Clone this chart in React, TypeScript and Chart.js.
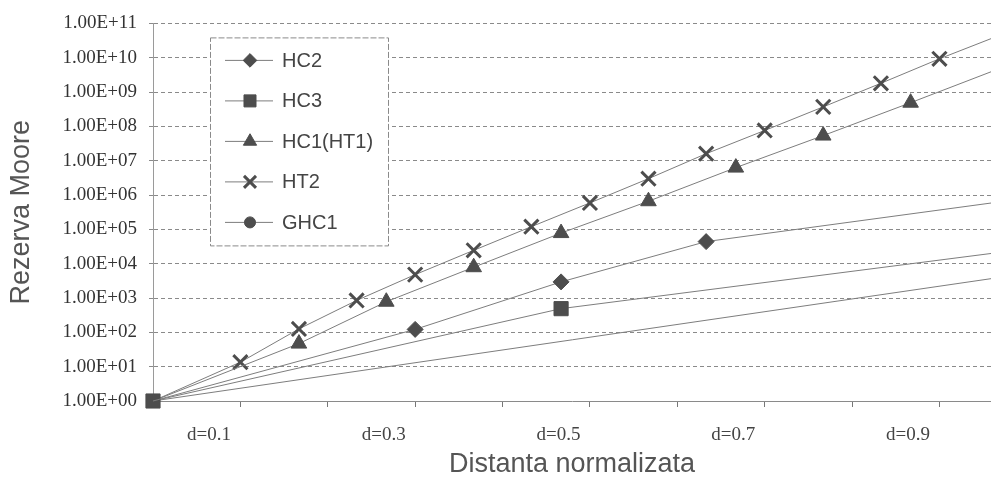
import React, { useEffect, useRef } from 'react';
import { Chart, registerables } from 'chart.js';
import { drawPoint } from 'chart.js/helpers';

Chart.register(...registerables);

// ---- data (x = normalized distance in axis units, y = Moore reserve) ----
const seriesNames = ['HC2', 'HC3', 'HC1(HT1)', 'HT2', 'GHC1'];

const hc2X = [0, 0.3, 0.467, 0.633, 1.0];
const hc2Y = [1, 122, 2950, 44000, 810000];

const hc3X = [0, 0.467, 1.0];
const hc3Y = [1, 490, 27000];

const hc1X = [0, 0.167, 0.267, 0.367, 0.467, 0.567, 0.667, 0.767, 0.867, 1.0];
const hc1Y = [1, 47, 780, 7900, 78000, 660000, 6300000, 54000000, 490000000, 9800000000];

const ht2X = [0, 0.1, 0.167, 0.233, 0.3, 0.367, 0.433, 0.5, 0.567, 0.633, 0.7, 0.767, 0.833, 0.9, 1.0];
const ht2Y = [1, 13.5, 126, 850, 4800, 24500, 120000, 590000, 3000000, 16000000, 76000000, 370000000, 1800000000, 9300000000, 92000000000];

const ghc1X = [0, 1.0];
const ghc1Y = [1, 5200];

const yTickValues = [1, 1e1, 1e2, 1e3, 1e4, 1e5, 1e6, 1e7, 1e8, 1e9, 1e10, 1e11];
const xTickMarks = [0, 0.1, 0.2, 0.3, 0.4, 0.5, 0.6, 0.7, 0.8, 0.9];
const xLabelPositions = [0.064, 0.264, 0.464, 0.664, 0.864];
const xLabels = ['d=0.1', 'd=0.3', 'd=0.5', 'd=0.7', 'd=0.9'];
const X_MIN = 0;
const X_MAX = 0.959;

const seriesX = [hc2X, hc3X, hc1X, ht2X, ghc1X];
const seriesY = [hc2Y, hc3Y, hc1Y, ht2Y, ghc1Y];

// ---- styles ----
const markerStyles = [
  { pointStyle: 'rectRot', radius: 8, borderWidth: 1 },
  { pointStyle: 'rect', radius: 10, borderWidth: 1 },
  { pointStyle: 'triangle', radius: 9, borderWidth: 1 },
  { pointStyle: 'crossRot', radius: 10, borderWidth: 3 },
  { pointStyle: 'circle', radius: 6.5, borderWidth: 1 },
];
const MARK = '#4d4d4d';
const LINE = '#7d7d7d';
const SERIF = "'Liberation Serif', 'Times New Roman', serif";
const SANS = "'Liberation Sans', Arial, sans-serif";

const fmtE = (v: number) => {
  const e = Math.round(Math.log10(v));
  return '1.00E+' + String(e).padStart(2, '0');
};

const boxLegend = {
  id: 'boxLegend',
  afterDatasetsDraw(chart: any) {
    const ctx = chart.ctx;
    const { left, top } = chart.chartArea;
    const bx = left + 57;
    const by = top + 14;
    const bw = 178;
    const bh = 208;
    ctx.save();
    ctx.fillStyle = '#ffffff';
    ctx.fillRect(bx, by, bw, bh);
    ctx.strokeStyle = '#8a8a8a';
    ctx.lineWidth = 1;
    ctx.setLineDash([6, 2]);
    ctx.strokeRect(bx + 0.5, by + 0.5, bw, bh);
    ctx.setLineDash([]);
    chart.data.datasets.forEach((ds: any, i: number) => {
      const y = by + 23 + i * 40.5;
      ctx.strokeStyle = LINE;
      ctx.lineWidth = 1;
      ctx.beginPath();
      ctx.moveTo(bx + 15, y);
      ctx.lineTo(bx + 63, y);
      ctx.stroke();
      const m = markerStyles[i];
      ctx.fillStyle = MARK;
      ctx.strokeStyle = MARK;
      ctx.lineWidth = m.borderWidth;
      drawPoint(ctx, { pointStyle: m.pointStyle, radius: m.radius * 0.85, rotation: 0, borderWidth: m.borderWidth }, bx + 40, y);
      ctx.fillStyle = '#454545';
      ctx.font = `20px ${SANS}`;
      ctx.textBaseline = 'middle';
      ctx.textAlign = 'left';
      ctx.fillText(ds.label, bx + 72, y + 1);
    });
    ctx.restore();
  },
};

export default function App() {
  const ref = useRef<HTMLCanvasElement | null>(null);

  useEffect(() => {
    if (!ref.current) return;
    const datasets = seriesNames.map((name, i) => ({
      label: name,
      data: seriesX[i].map((x, j) => ({ x, y: seriesY[i][j] })),
      borderColor: LINE,
      borderWidth: 1,
      backgroundColor: MARK,
      pointBackgroundColor: MARK,
      pointBorderColor: MARK,
      pointBorderWidth: markerStyles[i].borderWidth,
      pointStyle: markerStyles[i].pointStyle,
      pointRadius: (c: any) => (c.dataIndex === 0 && name !== 'HC3' ? 0 : markerStyles[i].radius),
      pointHoverRadius: markerStyles[i].radius,
      tension: 0,
      fill: false,
      clip: { left: 20, top: 20, right: 0, bottom: 20 } as any,
    }));

    const noPad = (s: any) => {
      s.paddingLeft = 0;
      s.paddingRight = 0;
    };

    const chart = new Chart(ref.current, {
      type: 'line',
      data: { datasets },
      plugins: [boxLegend],
      options: {
        animation: false,
        responsive: false,
        maintainAspectRatio: false,
        devicePixelRatio: 1,
        layout: { autoPadding: false, padding: { top: 21, right: 0, bottom: 0, left: 0 } },
        plugins: { legend: { display: false }, tooltip: { enabled: false } },
        scales: {
          x: {
            type: 'linear',
            position: 'bottom',
            weight: 1,
            min: X_MIN,
            max: X_MAX,
            afterBuildTicks: (s: any) => {
              s.ticks = xLabelPositions.map((v) => ({ value: v }));
            },
            afterFit: (s: any) => {
              s.height = 85;
              noPad(s);
            },
            ticks: {
              autoSkip: false,
              maxRotation: 0,
              padding: 17,
              color: '#444',
              font: { family: SERIF, size: 19 },
              callback: (_v: any, i: number) => xLabels[i],
            },
            grid: { display: false, drawTicks: false },
            border: { display: false },
            title: {
              display: true,
              text: 'Distanta normalizata',
              color: '#555',
              font: { family: SANS, size: 27 },
              padding: { top: 0, bottom: 11 },
            },
          },
          xt: {
            type: 'linear',
            position: 'bottom',
            weight: 0,
            min: X_MIN,
            max: X_MAX,
            afterBuildTicks: (s: any) => {
              s.ticks = xTickMarks.map((v) => ({ value: v }));
            },
            afterFit: (s: any) => {
              s.height = 6;
              noPad(s);
            },
            ticks: { display: false },
            grid: { drawOnChartArea: false, drawTicks: true, tickLength: 6, color: '#777' },
            border: { display: true, color: '#8a8a8a', dash: [6, 3] },
          },
          y: {
            type: 'logarithmic',
            position: 'left',
            min: 1,
            max: 1e11,
            afterBuildTicks: (s: any) => {
              s.ticks = yTickValues.map((v) => ({ value: v }));
            },
            afterFit: (s: any) => {
              s.width = 153;
            },
            ticks: {
              autoSkip: false,
              padding: 12,
              color: '#333',
              font: { family: SERIF, size: 19 },
              callback: (v: any) => fmtE(Number(v)),
            },
            grid: { color: '#8a8a8a', lineWidth: 1, drawTicks: true, tickLength: 4 },
            border: { display: true, color: '#9a9a9a', dash: [4, 3] },
            title: {
              display: true,
              text: 'Rezerva Moore',
              color: '#555',
              font: { family: SANS, size: 27 },
              padding: { top: 5, bottom: 0 },
            },
          },
        },
      } as any,
    });
    return () => chart.destroy();
  }, []);

  return (
    <div style={{ position: 'absolute', left: 0, top: 0, width: 991, height: 492, overflow: 'hidden', background: '#ffffff' }}>
      <canvas ref={ref} width={991} height={492} style={{ display: 'block', width: 991, height: 492 }} />
    </div>
  );
}
